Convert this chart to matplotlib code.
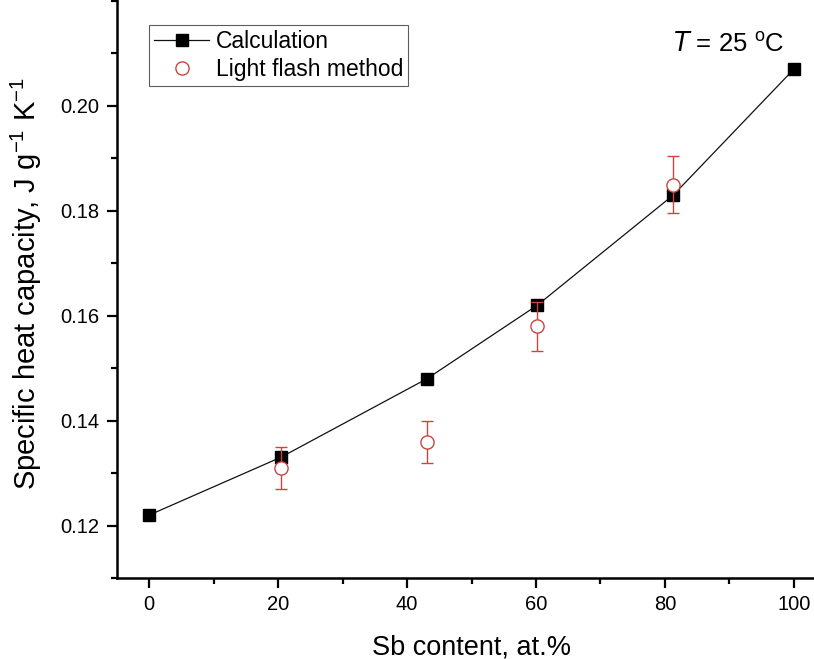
import numpy as np
import matplotlib
matplotlib.use("Agg")
import matplotlib.pyplot as plt
from matplotlib.lines import Line2D
from matplotlib.ticker import MultipleLocator

plt.rcParams["font.family"] = ["Liberation Sans", "DejaVu Sans"]

# ── data ───────────────────────────────────────────────────────
calc_x = [0, 20.4, 43.1, 60.2, 81.3, 100]
calc_y = [0.122, 0.133, 0.148, 0.162, 0.183, 0.207]

flash_x = [20.4, 43.1, 60.2, 81.3]
flash_y = [0.131, 0.136, 0.158, 0.185]
flash_err = [0.004, 0.004, 0.0047, 0.0055]

x_ticks = [0, 20, 40, 60, 80, 100]
y_ticks = [0.12, 0.14, 0.16, 0.18, 0.20]
y_ticklabels = ["0.12", "0.14", "0.16", "0.18", "0.20"]

RED = "#c8463f"

fig = plt.figure(figsize=(8.14, 6.59), dpi=100)
# axes run past the top/right edge: the reference is cropped there
ax = fig.add_axes([117 / 814, 81 / 659, 709 / 814, 578 / 659])

ax.plot(calc_x, calc_y, color="#111111", lw=0.9, marker="s", ms=8.5,
        mfc="black", mec="black", zorder=3)
ax.errorbar(flash_x, flash_y, yerr=flash_err, fmt="o", ms=9.5,
            mfc="white", mec=RED, mew=1.0, ecolor=RED, elinewidth=1.0,
            capsize=4, capthick=1.0, zorder=4)

ax.set_xlim(-5, 105)
ax.set_ylim(0.11, 0.2202)
ax.set_xticks(x_ticks)
ax.xaxis.set_minor_locator(MultipleLocator(10))
ax.set_yticks(y_ticks)
ax.set_yticklabels(y_ticklabels)
ax.yaxis.set_minor_locator(MultipleLocator(0.01))

for s in ["top", "right"]:
    ax.spines[s].set_visible(False)
for s in ["left", "bottom"]:
    ax.spines[s].set_linewidth(1.8)

ax.tick_params(which="major", direction="out", length=7.5, width=1.6,
               labelsize=14.5, pad=5)
ax.tick_params(which="minor", direction="out", length=4.3, width=1.6)

ax.set_xlabel("Sb content, at.%", fontsize=19.5)
ax.xaxis.set_label_coords(0.5, -0.098)
ax.set_ylabel(r"Specific heat capacity, J g$^{\mathregular{-1}}$ K$^{\mathregular{-1}}$",
              fontsize=21)
ax.yaxis.set_label_coords(-0.103, 0.51)

fig.text(673 / 814, 1 - 44 / 659, r"$\mathit{T}$ = 25 $^{\mathregular{o}}$C",
         fontsize=18.5, va="center", ha="left")

handles = [
    Line2D([], [], color="#111111", lw=0.9, marker="s", ms=8.5,
           mfc="black", mec="black"),
    Line2D([], [], ls="none", marker="o", ms=9.5, mfc="white", mec=RED,
           mew=1.0),
]
leg = ax.legend(handles, ["Calculation", "Light flash method"],
                loc="upper left", bbox_to_anchor=(149 / 814, 1 - 25 / 659),
                bbox_transform=fig.transFigure, fontsize=16.5, frameon=True,
                fancybox=False, edgecolor="#333333", borderaxespad=0,
                handlelength=2.4, handletextpad=0.3, borderpad=0.22,
                labelspacing=0.2)
leg.get_frame().set_linewidth(0.8)

fig.savefig("out.png", dpi=100)
